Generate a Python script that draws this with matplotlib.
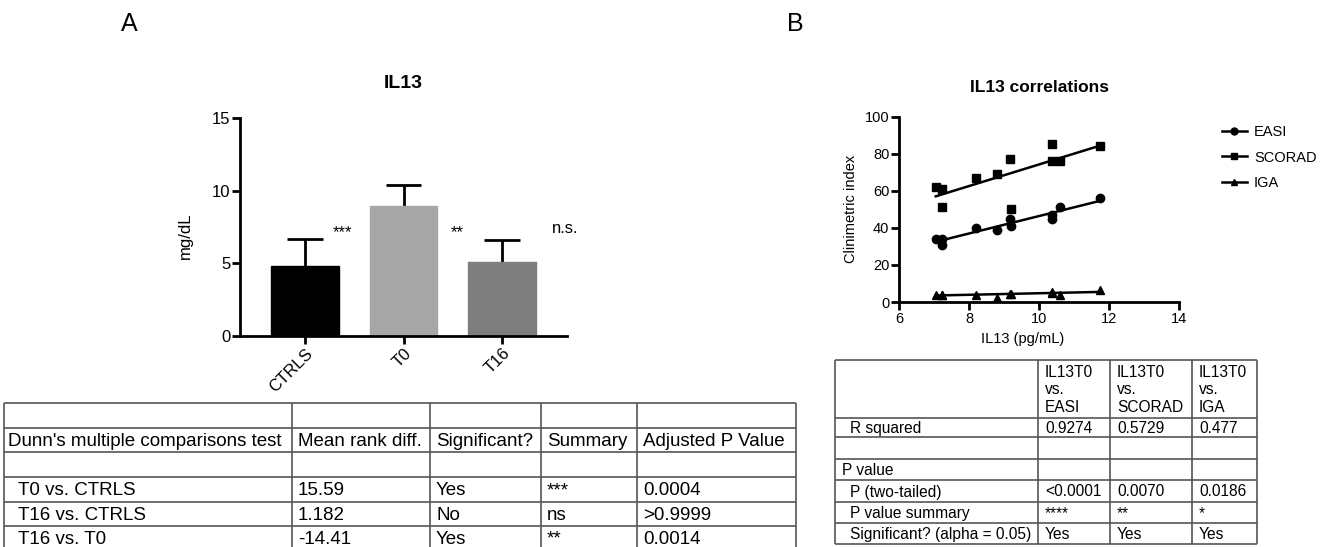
import numpy as np
import matplotlib
matplotlib.use('Agg')
import matplotlib.pyplot as plt

plt.rcParams['font.family'] = ['Liberation Sans', 'DejaVu Sans']

# panel A: bars
groups = ['CTRLS', 'T0', 'T16']
il13_mean = [4.82, 8.97, 5.09]
il13_err = [1.86, 1.43, 1.51]
bar_colors = ['#000000', '#a7a7a7', '#7e7e7e']
signif = ['***', '**', 'n.s.']

# panel B: correlations (IL13 at T0 vs clinimetric indexes)
il13_pg = [7.05, 7.24, 7.24, 8.21, 8.80, 9.16, 9.19, 10.37, 10.37, 10.59, 11.75]
easi = [34, 34, 31, 40, 39, 45, 41, 45, 47, 51, 56]
scorad = [62, 61, 51, 67, 69, 77, 50, 85, 76, 76, 84]
iga = [4, 4, 4, 4, 2.3, 4.3, 4.5, 5.5, 5, 3.6, 6.6]

# tables
dunn_header = ["Dunn's multiple comparisons test", 'Mean rank diff.',
               'Significant?', 'Summary', 'Adjusted P Value']
dunn_rows = [['T0 vs. CTRLS', '15.59', 'Yes', '***', '0.0004'],
             ['T16 vs. CTRLS', '1.182', 'No', 'ns', '>0.9999'],
             ['T16 vs. T0', '-14.41', 'Yes', '**', '0.0014']]

corr_header = ['', 'IL13T0\nvs.\nEASI', 'IL13T0\nvs.\nSCORAD', 'IL13T0\nvs.\nIGA']
corr_rows = [['R squared', '0.9274', '0.5729', '0.477'],
             ['', '', '', ''],
             ['P value', '', '', ''],
             ['P (two-tailed)', '<0.0001', '0.0070', '0.0186'],
             ['P value summary', '****', '**', '*'],
             ['Significant? (alpha = 0.05)', 'Yes', 'Yes', 'Yes']]

W, H = 1330, 547
fig = plt.figure(figsize=(W/100, H/100), dpi=100)

def px_axes(x0, y_top, x1, y_bot):
    # axes from pixel box (y measured from top)
    return fig.add_axes([x0/W, (H-y_bot)/H, (x1-x0)/W, (y_bot-y_top)/H])

def style_axes(ax, size):
    for s in ['top', 'right']:
        ax.spines[s].set_visible(False)
    for s in ['left', 'bottom']:
        ax.spines[s].set_linewidth(2)
    ax.tick_params(width=2, length=6, labelsize=size, pad=1)

# ---------- A: bar chart ----------
ax1 = px_axes(240, 118, 567, 336)
xpos = np.arange(len(groups))
top = np.array(il13_mean) + np.array(il13_err)
# one-sided error bars (upper only), drawn behind the bars
ax1.vlines(xpos, il13_mean, top, color='black', lw=2, zorder=1)
ax1.hlines(top, xpos - 0.178, xpos + 0.178, color='black', lw=2, zorder=1)
ax1.bar(xpos, il13_mean, width=0.69, color=bar_colors, edgecolor=bar_colors, zorder=2)
ax1.set_xlim(-0.66, 2.66)
ax1.set_ylim(0, 15)
ax1.set_yticks([0, 5, 10, 15])
ax1.set_xticks(xpos)
ax1.set_xticklabels(groups, rotation=45, ha='right', rotation_mode='anchor')
style_axes(ax1, 12)
ax1.set_ylabel('mg/dL', fontsize=12)
ax1.yaxis.set_label_coords(-0.144, 0.46)
ax1.text(0.5, 1.16, 'IL13', transform=ax1.transAxes, ha='center', va='center',
         fontsize=14, fontweight='bold')
sig_x = [0.38, 1.55, 2.64]
sig_y = [7.1, 7.1, 7.4]
for sx, sy, s in zip(sig_x, sig_y, signif):
    ax1.text(sx, sy, s, ha='center', va='center',
             fontsize=12 if s == 'n.s.' else 12)

# ---------- B: correlations ----------
ax2 = px_axes(899, 116.7, 1179, 302)
series = [(easi, 'o', 'EASI', 6), (scorad, 's', 'SCORAD', 6), (iga, '^', 'IGA', 5.5)]
x = np.array(il13_pg)
for y, m, lab, ms in series:
    k, b = np.polyfit(x, y, 1)
    xx = np.array([x.min(), x.max()])
    ax2.plot(x, y, m, color='black', ms=ms, zorder=3)
    ax2.plot(xx, k*xx + b, '-', color='black', lw=1.8, zorder=2)
    ax2.plot([], [], '-', marker=m, color='black', lw=1.8, ms=ms-1, label=lab)
ax2.set_xlim(6, 14)
ax2.set_ylim(0, 100)
ax2.set_xticks([6, 8, 10, 12, 14])
ax2.set_yticks([0, 20, 40, 60, 80, 100])
style_axes(ax2, 10.5)
ax2.set_ylabel('Clinimetric index', fontsize=10.5)
ax2.yaxis.set_label_coords(-0.146, 0.5)
ax2.set_xlabel('IL13 (pg/mL)', fontsize=10.5)
ax2.xaxis.set_label_coords(0.44, -0.16)
ax2.text(0.5, 1.16, 'IL13 correlations', transform=ax2.transAxes, ha='center',
         va='center', fontsize=12.5, fontweight='bold')
ax2.legend(loc='upper left', bbox_to_anchor=(1216/W, (H-119)/H),
           bbox_transform=fig.transFigure, frameon=False, fontsize=10.5,
           handlelength=1.7, handletextpad=0.5, labelspacing=0.8, borderaxespad=0)

# ---------- overlay for tables and panel letters ----------
ov = fig.add_axes([0, 0, 1, 1])
ov.set_xlim(0, W)
ov.set_ylim(H, 0)
ov.axis('off')
ov.patch.set_alpha(0)

ov.text(129, 24, 'A', fontsize=18, ha='center', va='center')
ov.text(795, 24, 'B', fontsize=18, ha='center', va='center')

lc = '#555555'

# left table (bottom cut by the figure edge)
cols_a = [4, 292, 430, 541, 637, 796]
rows_a = [403, 428, 452, 477, 502, 526, 550]
ov.hlines(rows_a, cols_a[0], cols_a[-1], color=lc, lw=1.2)
ov.vlines(cols_a, rows_a[0], rows_a[-1], color=lc, lw=1.2)
table_a = [[''] * 5, dunn_header, [''] * 5] + dunn_rows
for r, row in enumerate(table_a):
    yc = (rows_a[r] + rows_a[r+1]) / 2 + 1
    for c, txt in enumerate(row):
        pad = 6
        if c == 0:
            pad = 4 if r == 1 else 14
        ov.text(cols_a[c] + pad, yc, txt, fontsize=13.5, ha='left', va='center')

# right table
cols_b = [835, 1038, 1110, 1192, 1257]
rows_b = [360, 418, 437, 459, 480, 502, 523, 544]
ov.hlines(rows_b, cols_b[0], cols_b[-1], color=lc, lw=1.2)
ov.vlines(cols_b, rows_b[0], rows_b[-1], color=lc, lw=1.2)
table_b = [corr_header] + corr_rows
for r, row in enumerate(table_b):
    yc = (rows_b[r] + rows_b[r+1]) / 2 + 1
    for c, txt in enumerate(row):
        pad = 7
        if c == 0:
            pad = 7 if txt == 'P value' else 15
        ov.text(cols_b[c] + pad, yc, txt, fontsize=11.2, ha='left', va='center',
                linespacing=1.22)

fig.savefig('out.png', dpi=100)
